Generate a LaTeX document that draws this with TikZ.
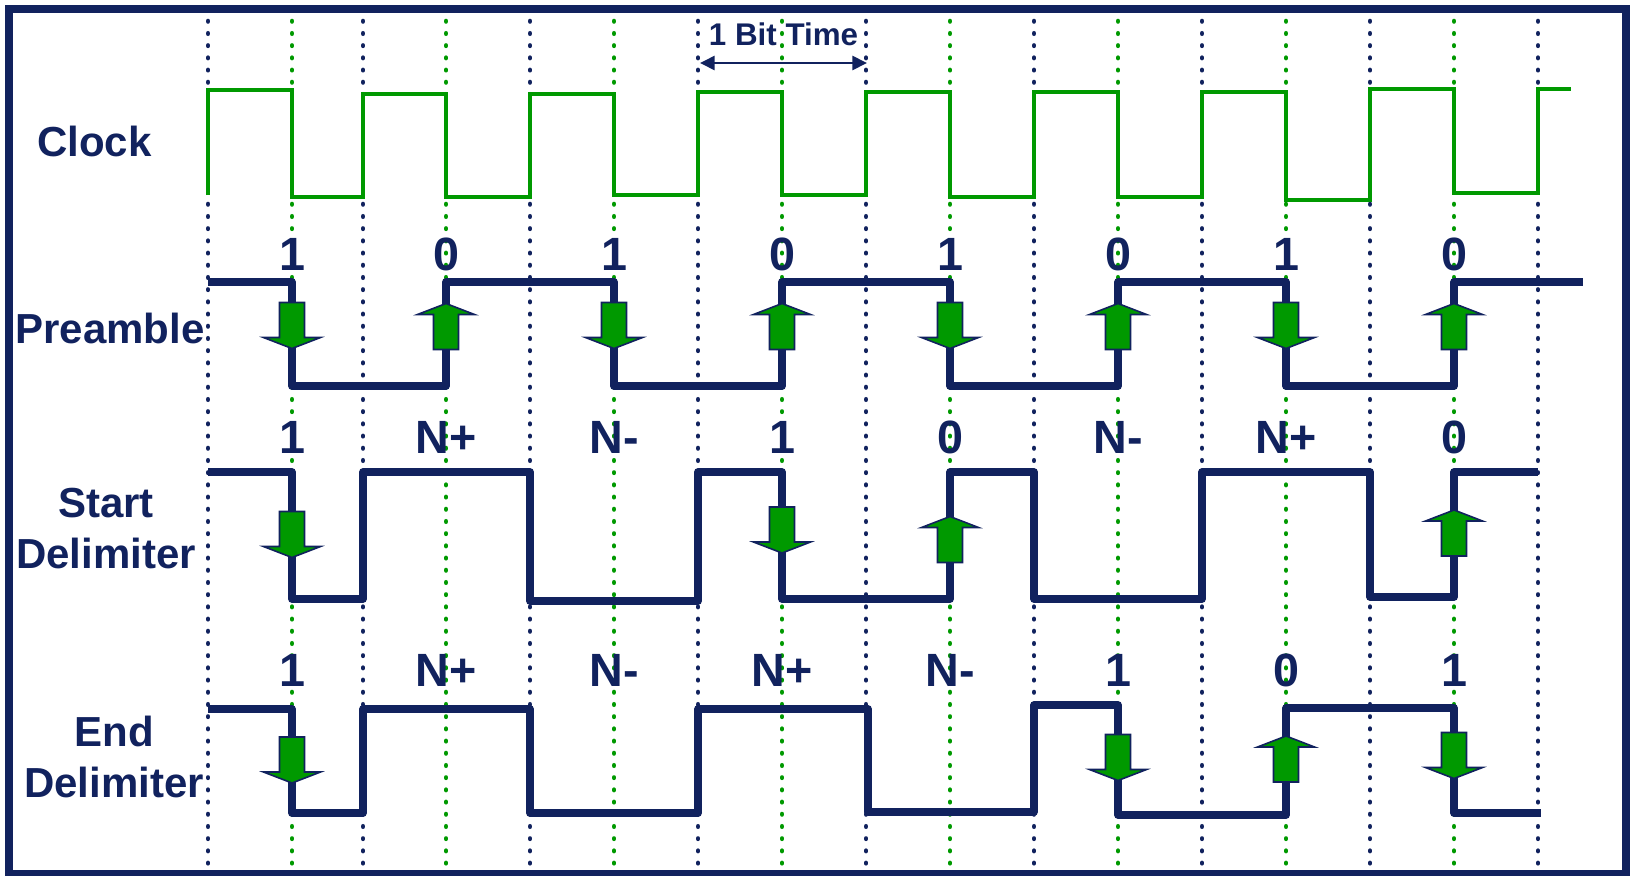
\documentclass[tikz,border=0pt]{standalone}
\usepackage{fontspec}
\setmainfont{Liberation Sans}
\usetikzlibrary{arrows.meta}
\definecolor{sigblue}{RGB}{17,34,94}
\definecolor{clkgreen}{RGB}{0,153,0}

\begin{document}
\begin{tikzpicture}[x=0.75pt,y=-0.75pt,
  every node/.style={text=sigblue, inner sep=0pt},
  rowname/.style={font=\fontsize{31.5}{38}\selectfont\bfseries, align=center, anchor=base},
  bitval/.style={font=\fontsize{35}{40}\selectfont\bfseries, anchor=base},
  navygrid/.style={sigblue, line width=3.7pt, line cap=round, dash pattern=on 0.1pt off 9.05pt},
  greengrid/.style={clkgreen, line width=3.7pt, line cap=round, dash pattern=on 0.1pt off 9.05pt},
  clkline/.style={clkgreen, line width=3pt},
  sigline/.style={sigblue, line width=5.6pt, line join=round},
  blockarrow/.style={fill=clkgreen, draw=sigblue, line width=1.2pt},
  pics/dnflag/.style={code={\draw[blockarrow] (-12.5,-23) -- (12.5,-23) -- (12.5,12) -- (28.5,12) -- (0,23) -- (-28.5,12) -- (-12.5,12) -- cycle;}},
  pics/upflag/.style={code={\draw[blockarrow] (-12.5,23) -- (12.5,23) -- (12.5,-12) -- (28.5,-12) -- (0,-23) -- (-28.5,-12) -- (-12.5,-12) -- cycle;}}]
\useasboundingbox (0,0) rectangle (1633,875);

% bit boundaries and clock edges
\draw[navygrid] (208,9) -- (208,871);
\draw[greengrid] (292,9) -- (292,871);
\draw[navygrid] (363,9) -- (363,871);
\draw[greengrid] (446,9) -- (446,871);
\draw[navygrid] (530,9) -- (530,871);
\draw[greengrid] (614,9) -- (614,871);
\draw[navygrid] (698,9) -- (698,871);
\draw[greengrid] (782,9) -- (782,871);
\draw[navygrid] (866,9) -- (866,871);
\draw[greengrid] (950,9) -- (950,871);
\draw[navygrid] (1034,9) -- (1034,871);
\draw[greengrid] (1118,9) -- (1118,871);
\draw[navygrid] (1202,9) -- (1202,871);
\draw[greengrid] (1286,9) -- (1286,871);
\draw[navygrid] (1370,9) -- (1370,871);
\draw[greengrid] (1454,9) -- (1454,871);
\draw[navygrid] (1538,9) -- (1538,871);

\draw[sigblue, line width=6pt] (9,9) rectangle (1626,874);

% row names
\node[rowname] (clk) at (94.5,156) {Clock};
\node[rowname] (pre) at (110,343) {Preamble};
\node[rowname] (sd) at (106,568) {Start\\Delimiter};
\node[rowname] (ed) at (114,797) {End\\Delimiter};

% one bit time
\node[font=\fontsize{23.5}{28}\selectfont\bfseries, anchor=base] (bittime) at (783.5,45) {1 Bit Time};
\coordinate (btl) at (700,63);
\coordinate (btr) at (867,63);
\draw[sigblue, line width=2pt, {Triangle[length=11pt,width=10.5pt]}-{Triangle[length=11pt,width=10.5pt]}] (btl) -- (btr);

% clock
\draw[clkline] (208,195) -- (208,90) -- (292,90) -- (292,197) -- (363,197) -- (363,94) -- (446,94) -- (446,197)
  -- (530,197) -- (530,94) -- (614,94) -- (614,195) -- (698,195) -- (698,92) -- (782,92) -- (782,195)
  -- (866,195) -- (866,92) -- (950,92) -- (950,197) -- (1034,197) -- (1034,92) -- (1118,92) -- (1118,197)
  -- (1202,197) -- (1202,92) -- (1286,92) -- (1286,200) -- (1370,200) -- (1370,89) -- (1454,89) -- (1454,193)
  -- (1538,193) -- (1538,89) -- (1571,89);

% preamble
\draw[sigline] (208,282) -- (292,282) -- (292,386) -- (446,386) -- (446,282) -- (614,282) -- (614,386)
  -- (782,386) -- (782,282) -- (950,282) -- (950,386) -- (1118,386) -- (1118,282) -- (1286,282)
  -- (1286,386) -- (1454,386) -- (1454,282) -- (1583,282);
\node[bitval] (p1) at (292,270) {1};
\node[bitval] (p2) at (446,270) {0};
\node[bitval] (p3) at (614,270) {1};
\node[bitval] (p4) at (782,270) {0};
\node[bitval] (p5) at (950,270) {1};
\node[bitval] (p6) at (1118,270) {0};
\node[bitval] (p7) at (1286,270) {1};
\node[bitval] (p8) at (1454,270) {0};
\pic at (292,325.5) {dnflag};
\pic at (446,326.5) {upflag};
\pic at (614,325.5) {dnflag};
\pic at (782,326.5) {upflag};
\pic at (950,325.5) {dnflag};
\pic at (1118,326.5) {upflag};
\pic at (1286,325.5) {dnflag};
\pic at (1454,326.5) {upflag};

% start delimiter
\draw[sigline] (208,472) -- (292,472) -- (292,599) -- (363,599) -- (363,472) -- (530,472) -- (530,601)
  -- (698,601) -- (698,472) -- (782,472) -- (782,599) -- (950,599) -- (950,472) -- (1034,472)
  -- (1034,599) -- (1202,599) -- (1202,472) -- (1370,472) -- (1370,597) -- (1454,597) -- (1454,472) -- (1538,472);
\node[bitval] (s1) at (292,453) {1};
\node[bitval] (s2) at (446,453) {N+};
\node[bitval] (s3) at (614,453) {N-};
\node[bitval] (s4) at (782,453) {1};
\node[bitval] (s5) at (950,453) {0};
\node[bitval] (s6) at (1118,453) {N-};
\node[bitval] (s7) at (1286,453) {N+};
\node[bitval] (s8) at (1454,453) {0};
\pic at (292,534.5) {dnflag};
\pic at (782,530) {dnflag};
\pic at (950,539.5) {upflag};
\pic at (1454,533) {upflag};

% end delimiter
\draw[sigline] (208,709) -- (292,709) -- (292,813) -- (363,813) -- (363,709) -- (530,709) -- (530,813)
  -- (698,813) -- (698,709) -- (868,709) -- (868,812) -- (1034,812) -- (1034,705) -- (1118,705)
  -- (1118,815) -- (1286,815) -- (1286,708) -- (1454,708) -- (1454,813) -- (1541,813);
\node[bitval] (e1) at (292,686) {1};
\node[bitval] (e2) at (446,686) {N+};
\node[bitval] (e3) at (614,686) {N-};
\node[bitval] (e4) at (782,686) {N+};
\node[bitval] (e5) at (950,686) {N-};
\node[bitval] (e6) at (1118,686) {1};
\node[bitval] (e7) at (1286,686) {0};
\node[bitval] (e8) at (1454,686) {1};
\pic at (292,760) {dnflag};
\pic at (1118,757.5) {dnflag};
\pic at (1286,759) {upflag};
\pic at (1454,755.5) {dnflag};
\end{tikzpicture}
\end{document}
